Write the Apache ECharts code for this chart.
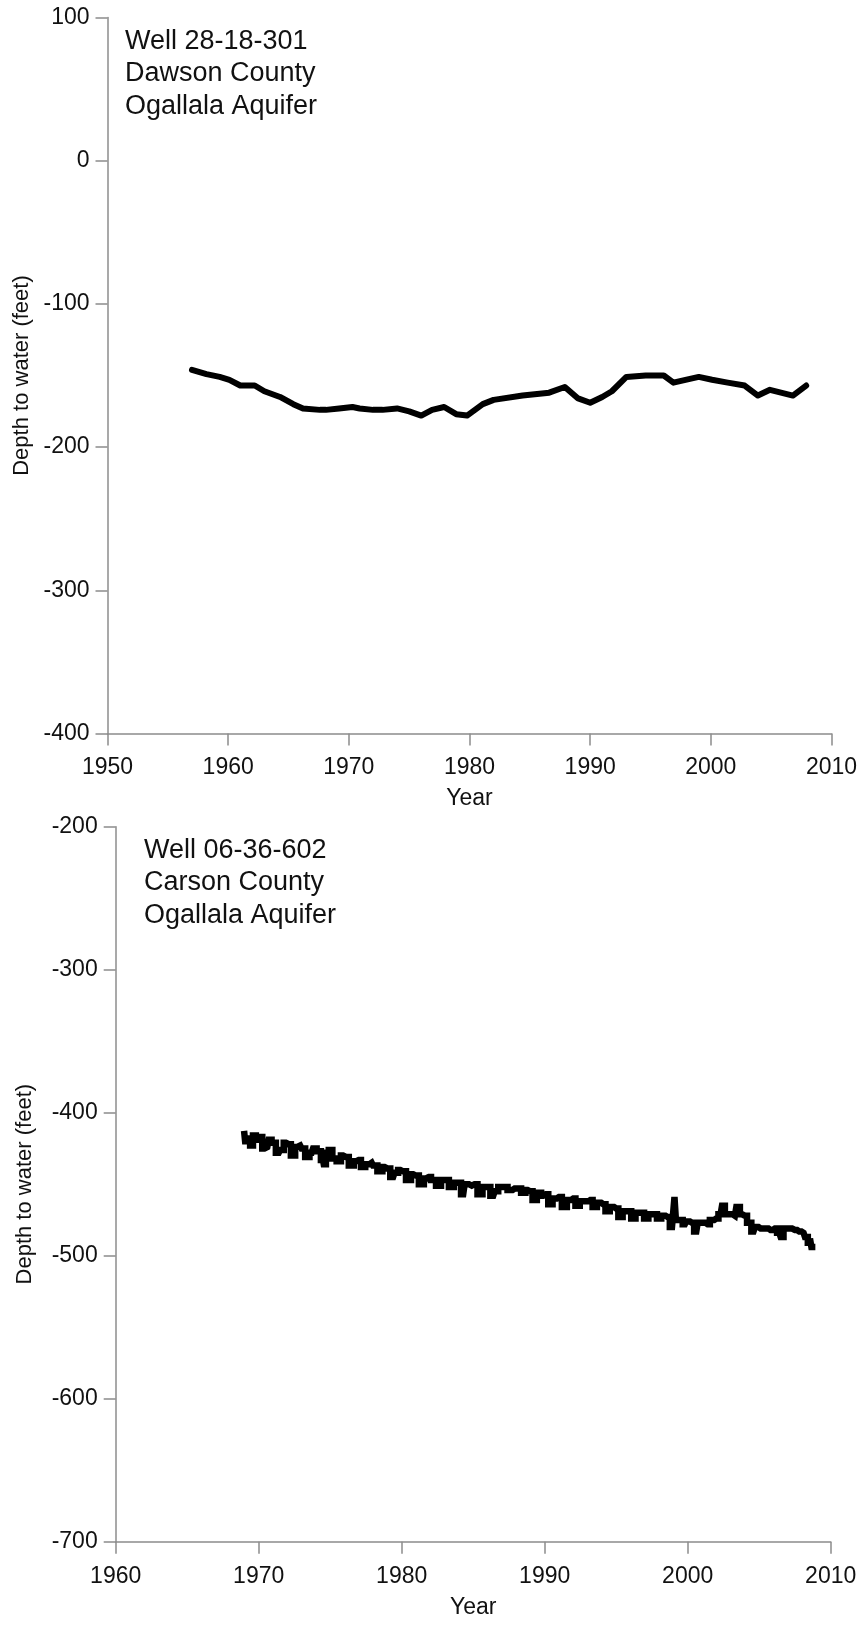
<!DOCTYPE html>
<html>
<head>
<meta charset="utf-8">
<title>Depth to water — Ogallala Aquifer wells</title>
<script src="https://cdn.jsdelivr.net/npm/echarts@6/dist/echarts.min.js"></script>
<style>
  html, body { margin: 0; padding: 0; background: #fff; }
  #chart { width: 864px; height: 1625px; }
</style>
</head>
<body>
<div id="chart"></div>
<script>
// Well 28-18-301, Dawson County: measurement dates (decimal years) and depth to water (feet)
const dawsonYears = [1957.0, 1958.2, 1959.3, 1960.1, 1961.0, 1962.2, 1963.0, 1964.3, 1965.4, 1966.2,
  1967.6, 1968.1, 1969.2, 1970.3, 1970.9, 1972.0, 1972.8, 1974.0, 1975.0, 1976.0,
  1976.9, 1977.9, 1978.9, 1979.8, 1981.1, 1982.0, 1984.4, 1986.6, 1987.9, 1989.0,
  1990.0, 1991.0, 1991.8, 1993.0, 1994.6, 1996.1, 1996.9, 1997.9, 1999.0, 2000.1,
  2001.4, 2002.8, 2003.9, 2004.9, 2006.8, 2007.9];
const dawsonDepth = [-146, -149, -151, -153, -157, -157, -161, -165, -170, -173,
  -174, -174, -173, -172, -173, -174, -174, -173, -175, -178,
  -174, -172, -177, -178, -170, -167, -164, -162, -158, -166,
  -169, -165, -161, -151, -150, -150, -155, -153, -151, -153,
  -155, -157, -164, -160, -164, -157];

// Well 06-36-602, Carson County: measurement dates (decimal years) and depth to water (feet)
const carsonYears = [1969.0, 1969.1, 1969.3, 1969.5, 1969.7, 1969.9,
  1970.1, 1970.4, 1970.6, 1970.8, 1971.0, 1971.4, 1971.6, 1971.9,
  1972.1, 1972.4, 1972.7, 1972.9, 1973.1, 1973.4, 1973.7, 1973.9,
  1974.2, 1974.5, 1974.6, 1974.8, 1975.0, 1975.3, 1975.6, 1975.9,
  1976.1, 1976.5, 1976.8, 1977.0, 1977.3, 1977.6, 1977.9,
  1978.1, 1978.5, 1978.8, 1979.0, 1979.4, 1979.6, 1979.9,
  1980.1, 1980.5, 1980.8, 1981.0, 1981.4, 1981.7, 1981.9,
  1982.2, 1982.6, 1982.9, 1983.1, 1983.5, 1983.8,
  1984.0, 1984.3, 1984.5, 1984.9, 1985.1, 1985.5, 1985.8,
  1986.0, 1986.4, 1986.6, 1986.9, 1987.2, 1987.6, 1987.9,
  1988.2, 1988.5, 1988.8, 1989.0, 1989.3, 1989.6, 1989.9,
  1990.1, 1990.4, 1990.7, 1991.0, 1991.4, 1991.7,
  1992.0, 1992.3, 1992.6, 1992.9, 1993.2, 1993.5, 1993.8,
  1994.1, 1994.4, 1994.7, 1995.0, 1995.3, 1995.6,
  1995.9, 1996.2, 1996.5, 1996.8, 1997.1, 1997.4,
  1997.7, 1998.0, 1998.3, 1998.6, 1998.9, 1999.0, 1999.15, 1999.2,
  1999.5, 1999.8, 2000.0, 2000.3, 2000.6, 2000.8,
  2001.1, 2001.4, 2001.7, 2002.0, 2002.3, 2002.5, 2002.7,
  2003.0, 2003.3, 2003.5, 2003.8, 2004.0, 2004.3, 2004.6, 2004.8,
  2005.1, 2005.5, 2005.8, 2006.1, 2006.4, 2006.6, 2006.8,
  2007.1, 2007.5, 2007.8, 2008.1, 2008.3, 2008.5, 2008.6, 2008.7];
const carsonDepth = [-415, -420, -418, -423, -416, -419,
  -417, -425, -424, -419, -421, -428, -426, -421,
  -422, -430, -424, -423, -425, -431, -428, -425,
  -427, -433, -436, -428, -426, -432, -434, -430,
  -431, -437, -434, -433, -438, -436, -435,
  -437, -441, -438, -439, -445, -442, -440,
  -441, -447, -443, -444, -450, -446, -445,
  -447, -451, -447, -447, -452, -449,
  -449, -457, -450, -451, -450, -457, -452,
  -452, -458, -455, -452, -452, -454, -453,
  -453, -456, -454, -455, -461, -456, -458,
  -457, -464, -460, -459, -466, -461,
  -460, -465, -462, -462, -461, -466, -463,
  -464, -469, -466, -467, -473, -469,
  -469, -474, -470, -470, -474, -471,
  -471, -474, -472, -473, -480, -474, -459, -475,
  -475, -478, -476, -477, -483, -477,
  -477, -478, -475, -474, -471, -465, -471,
  -471, -472, -466, -471, -472, -477, -483, -480,
  -481, -481, -482, -481, -484, -487, -481,
  -481, -482, -483, -484, -487, -491, -488, -494];

// Axis tick settings for each panel
const dawsonYearTicks = { min: 1950, max: 2010, interval: 10 };
const dawsonDepthTicks = { min: -400, max: 100, interval: 100 };
const carsonYearTicks = { min: 1960, max: 2010, interval: 10 };
const carsonDepthTicks = { min: -700, max: -200, interval: 100 };

const zip = (xs, ys) => xs.map((x, i) => [x, ys[i]]);

const FONT = '"Liberation Sans", Arial, sans-serif';
const AXIS_GRAY = '#8c8c8c';

function xAxisFor(gridIndex, ticks) {
  return {
    type: 'value', gridIndex,
    min: ticks.min, max: ticks.max, interval: ticks.interval,
    name: 'Year', nameLocation: 'middle', nameGap: 54,
    nameTextStyle: { fontFamily: FONT, fontSize: 23, color: '#111' },
    axisLine: { show: true, onZero: false, lineStyle: { color: AXIS_GRAY, width: 1.5 } },
    axisTick: { show: true, inside: false, length: 12, lineStyle: { color: AXIS_GRAY, width: 1.5 } },
    axisLabel: {
      fontFamily: FONT, fontSize: 23, color: '#111', margin: 23,
      showMinLabel: true, showMaxLabel: true,
      formatter: (v) => String(v)
    },
    splitLine: { show: false }
  };
}

function yAxisFor(gridIndex, ticks, gap) {
  return {
    type: 'value', gridIndex,
    min: ticks.min, max: ticks.max, interval: ticks.interval,
    name: 'Depth to water (feet)', nameLocation: 'middle', nameGap: gap,
    nameTextStyle: { fontFamily: FONT, fontSize: 22, color: '#111' },
    axisLine: { show: true, onZero: false, lineStyle: { color: AXIS_GRAY, width: 1.5 } },
    axisTick: { show: true, inside: false, length: 12, lineStyle: { color: AXIS_GRAY, width: 1.5 } },
    axisLabel: { fontFamily: FONT, fontSize: 23, color: '#111', margin: 18, formatter: (v) => String(v) },
    splitLine: { show: false }
  };
}

const chart = echarts.init(document.getElementById('chart'), null, { renderer: 'canvas' });

chart.setOption({
  animation: false,
  backgroundColor: '#fff',
  grid: [
    { left: 107.5, top: 17.5, width: 724, height: 716 },
    { left: 115.7, top: 826.7, width: 715, height: 715 }
  ],
  xAxis: [xAxisFor(0, dawsonYearTicks), xAxisFor(1, carsonYearTicks)],
  yAxis: [yAxisFor(0, dawsonDepthTicks, 72), yAxisFor(1, carsonDepthTicks, 80)],
  graphic: [
    {
      type: 'text', left: 125, top: 25,
      style: { text: 'Well 28-18-301\nDawson County\nOgallala Aquifer', fontFamily: FONT, fontSize: 27, lineHeight: 32.5, fill: '#111' }
    },
    {
      type: 'text', left: 144, top: 834,
      style: { text: 'Well 06-36-602\nCarson County\nOgallala Aquifer', fontFamily: FONT, fontSize: 27, lineHeight: 32.5, fill: '#111' }
    }
  ],
  series: [
    {
      name: 'Well 28-18-301', type: 'line', xAxisIndex: 0, yAxisIndex: 0,
      data: zip(dawsonYears, dawsonDepth),
      showSymbol: false, smooth: false,
      lineStyle: { color: '#000', width: 6, join: 'round', cap: 'round' }
    },
    {
      name: 'Well 06-36-602', type: 'line', xAxisIndex: 1, yAxisIndex: 1,
      data: zip(carsonYears, carsonDepth),
      showSymbol: false, smooth: false, step: 'middle',
      lineStyle: { color: '#000', width: 6.5, join: 'miter', cap: 'square' }
    }
  ]
});
</script>
</body>
</html>
